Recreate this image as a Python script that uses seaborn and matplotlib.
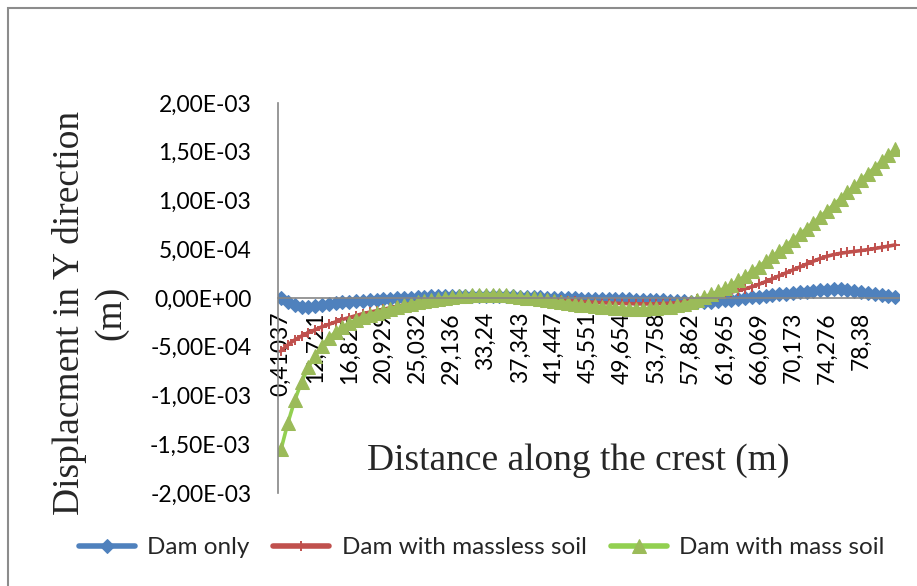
import numpy as np
import pandas as pd
import matplotlib
matplotlib.use("Agg")
import matplotlib.pyplot as plt
import seaborn as sns
from matplotlib.patches import Rectangle
from matplotlib.ticker import FuncFormatter

# =====================
# DATA  (displacements in 1e-5 m, one value per crest node)
# =====================

tick_labels = ["0,41037", "12,721", "16,825", "20,929", "25,032", "29,136",
               "33,24", "37,343", "41,447", "45,551", "49,654", "53,758",
               "57,862", "61,965", "66,069", "70,173", "74,276", "78,38"]

dam_only = [0, -4, -7, -9, -9, -8, -7, -6, -5, -4.5,
            -4, -3.5, -3, -2.5, -2, -1.5, -1, -0.5, 0, 0.5,
            1, 1.3, 1.6, 1.9, 2.1, 2.3, 2.4, 2.5, 2.5, 2.5,
            2.4, 2.3, 2.1, 1.9, 1.7, 1.5, 1.2, 1.0, 0.7, 0.5,
            0.2, 0, -0.2, -0.4, -0.6, -0.8, -1.0, -1.1, -1.2, -1.3,
            -1.4, -1.5, -1.6, -1.7, -1.8, -2.0, -2.3, -2.7, -3.1, -3.5,
            -3.9, -4.2, -4.3, -4.0, -3.3, -2.5, -1.7, -0.9, -0.1, 0.7,
            1.5, 2.3, 3.0, 3.7, 4.4, 5.1, 5.8, 6.6, 7.4, 8.1,
            8.7, 9.0, 8.8, 8.2, 7.4, 6.5, 5.5, 4.4, 3.3, 2.1, 0.8]

dam_massless = [-54, -48, -43, -39, -35.5, -32.5, -29.5, -27, -24.5, -22,
                -20, -18, -16, -14.5, -13, -11.5, -10, -8.5, -7, -5.5,
                -4, -3, -2, -1, 0, 0.8, 1.5, 2, 2.4, 2.6,
                2.7, 2.6, 2.3, 1.9, 1.4, 0.9, 0.4, -0.1, -0.6, -1.1,
                -1.6, -2.1, -2.6, -3.1, -3.6, -4, -4.4, -4.8, -5.1, -5.4,
                -5.6, -5.8, -5.9, -6, -6, -5.9, -5.7, -5.3, -4.7, -3.8,
                -2.7, -1.4, 0, 1.5, 3, 4.5, 6, 7.7, 9.5, 11.5,
                14, 16.8, 19.8, 22.8, 25.8, 28.8, 31.8, 34.8, 37.8, 40.5,
                42.8, 44.6, 45.9, 46.9, 47.8, 48.7, 49.7, 50.8, 52, 53.2, 54.5]

dam_mass = [-155, -128, -105, -86, -71, -59, -49, -41, -35, -30,
            -26, -22.5, -19.5, -17, -15, -13, -11, -9.2, -7.5, -5.8,
            -4.3, -3, -1.8, -0.8, 0.2, 1, 1.8, 2.5, 3, 3.4,
            3.6, 3.6, 3.3, 2.8, 2.1, 1.3, 0.5, -0.4, -1.3, -2.2,
            -3.1, -4, -4.9, -5.8, -6.7, -7.5, -8.3, -9, -9.6, -10.1,
            -10.5, -10.8, -10.9, -10.9, -10.7, -10.3, -9.7, -8.8, -7.6, -6,
            -4, -1.6, 1, 3.8, 6.8, 10, 13.8, 18, 22.5, 27.3,
            32.3, 37.5, 42.8, 48.2, 53.8, 59.5, 65.3, 71.2, 77.2, 83.3,
            89.5, 95.7, 102, 108.3, 114.6, 121, 127.4, 133.8, 140.2, 146.6, 153]

label_every = 5

# =====================
# DATAFRAME
# =====================

df = pd.DataFrame({
    "node": np.arange(len(dam_only)),
    "Dam only": np.array(dam_only) * 1e-5,
    "Dam with massless soil": np.array(dam_massless) * 1e-5,
    "Dam with mass soil": np.array(dam_mass) * 1e-5,
})

# =====================
# STYLE
# =====================

sns.set_theme(style="white")
plt.rcParams["font.family"] = ["Lato", "DejaVu Sans"]

fig = plt.figure(figsize=(9.17, 5.86), dpi=100)
ax = fig.add_axes([0.3028, 0.1587, 0.6772, 0.6655])

# horizontal axis crosses at zero (do this before the ticks: it resets them)
ax.spines["top"].set_visible(False)
ax.spines["right"].set_visible(False)
ax.spines["bottom"].set_position(("data", 0))

# =====================
# LINES
# =====================

sns.lineplot(data=df, x="node", y="Dam only", ax=ax,
             color="#4F81BD", lw=2.6, marker="D", markersize=7.5,
             markerfacecolor="#4F81BD", markeredgecolor="#4F81BD",
             label="Dam only")

sns.lineplot(data=df, x="node", y="Dam with massless soil", ax=ax,
             color="#C0504D", lw=2.6, marker="+", markersize=7,
             markeredgewidth=1.4, markeredgecolor="#C0504D",
             label="Dam with massless soil")

sns.lineplot(data=df, x="node", y="Dam with mass soil", ax=ax,
             color="#92D050", lw=2.6, marker="^", markersize=9.5,
             markerfacecolor="#9BBB59", markeredgecolor="#9BBB59",
             label="Dam with mass soil")

# =====================
# AXES
# =====================

ax.set_xlim(-0.5, len(dam_only) - 0.5)
ax.set_ylim(-2e-3, 2e-3)

ax.set_yticks(np.arange(-2e-3, 2.0001e-3, 5e-4))
ax.yaxis.set_major_formatter(
    FuncFormatter(lambda v, p: f"{v:.2E}".replace(".", ",").replace("-0,00", "0,00"))
)

ticks = np.arange(0, len(tick_labels) * label_every, label_every)
ax.set_xticks(ticks)
ax.set_xticklabels(tick_labels)

ax.spines["bottom"].set_color("#868686")
ax.spines["left"].set_color("#868686")
ax.spines["bottom"].set_linewidth(1.2)
ax.spines["left"].set_linewidth(1.2)

ax.tick_params(axis="y", length=0, pad=19, labelsize=16.5, colors="black")
ax.tick_params(axis="x", length=0, pad=10, labelsize=16.5, colors="black",
               labelrotation=90)

ax.set_xlabel("")
ax.set_ylabel("")
ax.grid(False)

fig.text(90 / 917, 1 - 313 / 586, "Displacment in Y direction\n(m)",
         rotation=90, ha="center", va="center", multialignment="center",
         family="Liberation Serif", fontsize=27, linespacing=1.25)

fig.text(578 / 917, 1 - 461 / 586, "Distance along the crest (m)",
         ha="center", va="center", family="Liberation Serif", fontsize=27)

# =====================
# LEGEND
# =====================

handles, labels = ax.get_legend_handles_labels()
ax.get_legend().remove()
leg = fig.legend(handles, labels, loc="center", bbox_to_anchor=(0.525, 0.065),
                 ncol=3, frameon=False, fontsize=17.5, handlelength=2.3,
                 handletextpad=0.5, columnspacing=1.0)
for line in leg.get_lines():
    line.set_linewidth(4)
    line.set_solid_capstyle("round")

# chart border
fig.patches.append(Rectangle((8 / 917, -0.5), 2, 1.5 - 8 / 586,
                             transform=fig.transFigure, fill=False,
                             edgecolor="#8C8C8C", lw=1.5))

plt.savefig("out.png", dpi=100)
